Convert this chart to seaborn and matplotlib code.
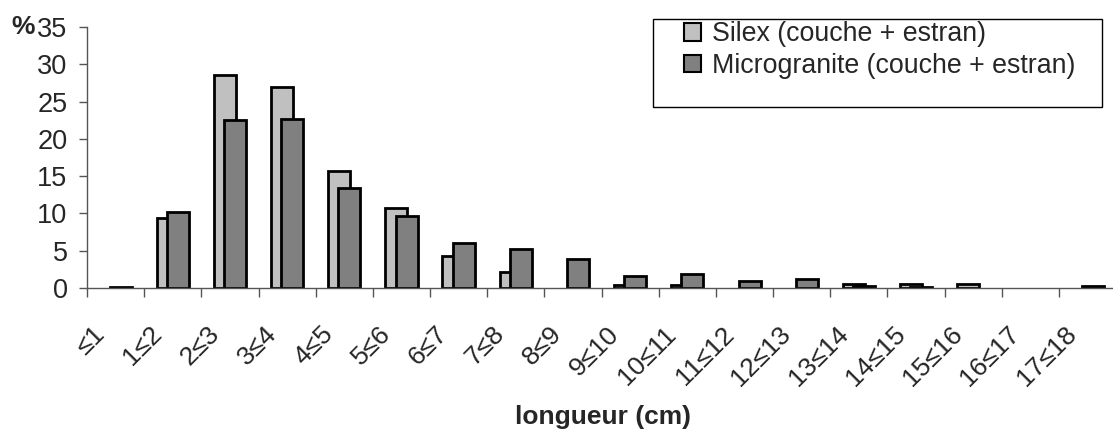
import numpy as np
import pandas as pd
import seaborn as sns
import matplotlib.pyplot as plt
import matplotlib.transforms as mtransforms
from matplotlib.patches import Patch, Rectangle

# classes de longueur (cm)
categories = ['≤1', '1≤2', '2≤3', '3≤4', '4≤5', '5≤6', '6≤7', '7≤8', '8≤9',
              '9≤10', '10≤11', '11≤12', '12≤13', '13≤14', '14≤15', '15≤16',
              '16≤17', '17≤18']
silex = [0, 9.4, 28.6, 26.9, 15.7, 10.7, 4.3, 2.2, 0, 0.45, 0.45, 0, 0,
         0.5, 0.5, 0.5, 0, 0]
microgranite = [0.1, 10.2, 22.5, 22.6, 13.4, 9.7, 6.0, 5.2, 3.85, 1.65, 1.9,
                0.98, 1.15, 0.3, 0.1, 0, 0, 0.3]
series_names = ['Silex (couche + estran)', 'Microgranite (couche + estran)']
colors = ['#c0c0c0', '#808080']

df = pd.DataFrame({
    'classe': categories * 2,
    'pct': silex + microgranite,
    'serie': [series_names[0]] * len(categories) + [series_names[1]] * len(categories),
})

sns.set_style("white")
plt.rcParams['font.family'] = ['Liberation Sans', 'DejaVu Sans']

W, H = 1113, 430
fig = plt.figure(figsize=(W / 100, H / 100), dpi=100)
ax = fig.add_axes([0.0782, 0.3302, 0.9245, 0.607])

sns.barplot(data=df, x='classe', y='pct', hue='serie', order=categories,
            hue_order=series_names, palette=colors, width=0.36,
            edgecolor='black', linewidth=2, saturation=1, legend=False, ax=ax)

# bars a bit wider than the dodge spacing, so they overlap like the original
bar_w = 0.385
for p in ax.patches:
    cx = p.get_x() + p.get_width() / 2
    p.set_width(bar_w)
    p.set_x(cx - bar_w / 2)
    if p.get_height() == 0:
        p.set_visible(False)

ax.set_xlim(-0.5, 17.5)
ax.set_ylim(0, 35)
ax.set_yticks(np.arange(0, 36, 5))
ax.tick_params(axis='y', labelsize=19.5, length=6, width=1, color='#555555',
               pad=8, direction='out', left=True)

# labels and ticks sit on the class boundaries
ax.set_xticks(np.arange(len(categories)) - 0.5)
ax.set_xticklabels(categories, rotation=45, ha='right', va='center',
                   rotation_mode='anchor', fontsize=19)
ax.tick_params(axis='x', length=6.5, width=1, color='#555555', pad=24,
               direction='out', bottom=True)
shift = mtransforms.ScaledTranslation(0.14, 0, fig.dpi_scale_trans)
for lab in ax.get_xticklabels():
    lab.set_transform(lab.get_transform() + shift)

sns.despine(ax=ax)
for s in ['left', 'bottom']:
    ax.spines[s].set_color('#555555')
    ax.spines[s].set_linewidth(1)

ax.set_xlabel('longueur (cm)', fontsize=19, fontweight='bold', va='top')
ax.xaxis.set_label_coords(603 / W, 1 - 405 / H, transform=fig.transFigure)
ax.set_ylabel('')
fig.text(0.010, 1 - 27 / H, '%', fontsize=19, fontweight='bold', va='center')

handles = [Patch(facecolor=c, edgecolor='black', linewidth=1.5) for c in colors]
leg = ax.legend(handles, series_names, loc='upper left',
                bbox_to_anchor=(684 / W, 1 - 21 / H),
                bbox_transform=fig.transFigure, fontsize=19.3, frameon=False,
                handlelength=0.65, handleheight=0.65, handletextpad=0.4,
                labelspacing=0.22, borderpad=0, borderaxespad=0)
# legend frame, wider padding left/right as in the original
fig.patches.append(Rectangle((653 / W, 1 - 107 / H), (1102 - 653) / W, 88 / H,
                             transform=fig.transFigure, facecolor='none',
                             edgecolor='black', linewidth=1))

fig.savefig('out.png', dpi=100)
